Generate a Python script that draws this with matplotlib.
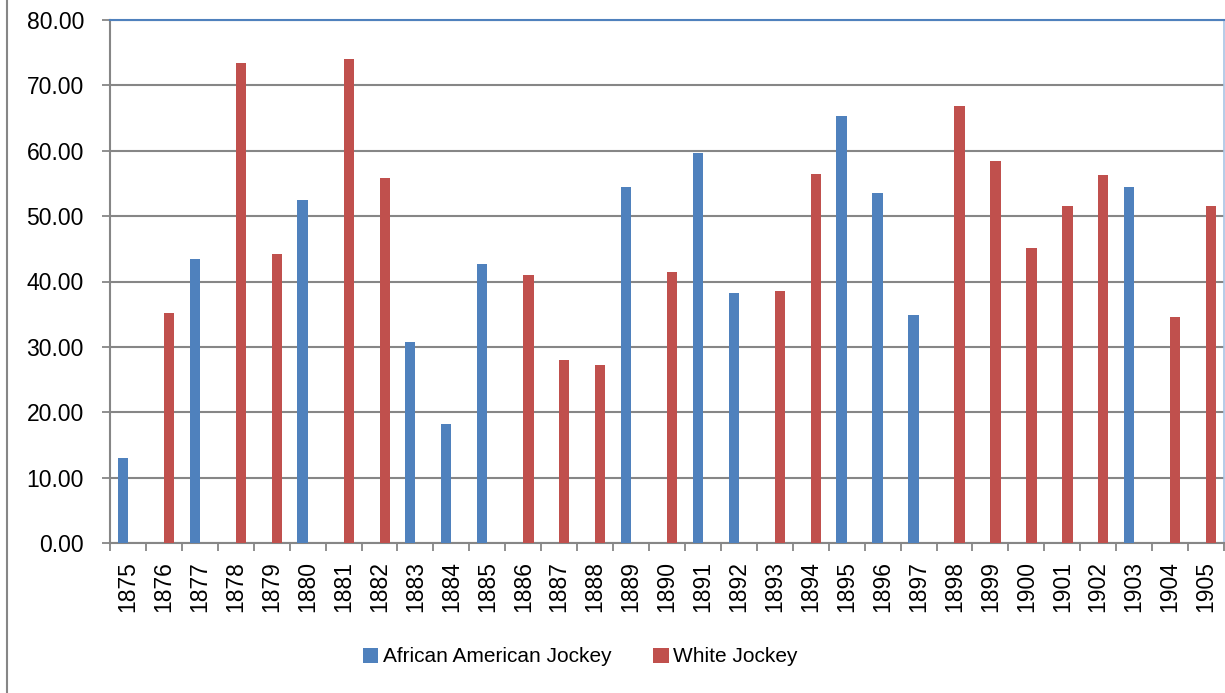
import numpy as np
import matplotlib.pyplot as plt
from matplotlib.lines import Line2D

# Data
years = [str(y) for y in range(1875, 1906)]
african_american = [13.0, np.nan, 43.4, np.nan, np.nan, 52.4, np.nan, np.nan, 30.8, 18.2,
                    42.7, np.nan, np.nan, np.nan, 54.5, np.nan, 59.6, 38.3, np.nan, np.nan,
                    65.3, 53.5, 34.8, np.nan, np.nan, np.nan, np.nan, np.nan, 54.4, np.nan,
                    np.nan]
white = [np.nan, 35.2, np.nan, 73.4, 44.2, np.nan, 74.0, 55.9, np.nan, np.nan,
         np.nan, 41.0, 28.0, 27.2, np.nan, 41.5, np.nan, np.nan, 38.5, 56.5,
         np.nan, np.nan, np.nan, 66.9, 58.4, 45.2, 51.5, 56.3, np.nan, 34.5,
         51.5]

blue = '#4F81BD'
red = '#C0504D'
grid_col = '#868686'

plt.rcParams['font.family'] = ['Liberation Sans', 'DejaVu Sans']

fig = plt.figure(figsize=(12.25, 6.93), dpi=100)
ax = fig.add_axes([110 / 1225, 150 / 693, 1114 / 1225, 523 / 693])

x = np.arange(len(years))
w = 1 / 3.5
ax.bar(x - w / 2, african_american, w, color=blue, label='African American Jockey', zorder=3)
ax.bar(x + w / 2, white, w, color=red, label='White Jockey', zorder=3)

ax.set_xlim(-0.5, len(years) - 0.5)
ax.set_ylim(0, 80)
ax.set_yticks(np.arange(0, 81, 10))
ax.set_yticklabels([f'{v:.2f}' for v in np.arange(0, 81, 10)], fontsize=16.5)
ax.set_xticks(x)
ax.set_xticklabels(years, rotation=90, fontsize=16.5)
ax.set_xticks(np.arange(-0.5, len(years)), minor=True)
ax.tick_params(axis='x', which='major', length=0, pad=13)
ax.tick_params(axis='x', which='minor', length=5.8, width=1.3, color=grid_col)
ax.tick_params(axis='y', length=5.8, width=1.3, color=grid_col, pad=13)

ax.yaxis.grid(True, color=grid_col, linewidth=1.5, zorder=0)
ax.set_axisbelow(True)
for side in ['left', 'bottom']:
    ax.spines[side].set_color(grid_col)
    ax.spines[side].set_linewidth(1.5)
ax.spines['top'].set_color(blue)
ax.spines['top'].set_linewidth(1.5)
ax.spines['right'].set_color('#A9C4E4')
ax.spines['right'].set_linewidth(1.2)

ax.legend(loc='center', bbox_to_anchor=(580 / 1225, 36 / 693), bbox_transform=fig.transFigure,
          ncol=2, frameon=False, fontsize=15, handlelength=0.75, handleheight=0.75,
          handletextpad=0.2, columnspacing=2.0)

# outer chart border on the left
fig.add_artist(Line2D([7 / 1225, 7 / 1225], [0, 1], color=grid_col, linewidth=1.5))

fig.savefig('out.png', dpi=100)
